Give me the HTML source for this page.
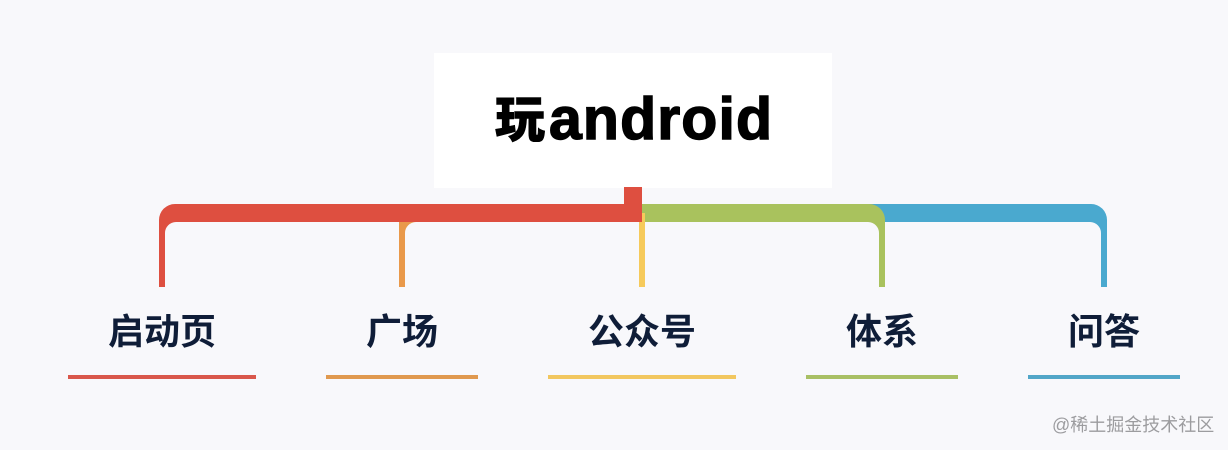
<!DOCTYPE html>
<html lang="zh">
<head>
<meta charset="utf-8">
<style>
html,body{margin:0;padding:0;width:1228px;height:450px;overflow:hidden;background:#f8f8fb}
svg{display:block}
.l{font-family:"Liberation Sans","Noto Sans CJK SC",sans-serif;font-size:36px;font-weight:700;fill:#0f1d38;text-anchor:middle}
</style>
</head>
<body>
<svg width="1228" height="450" viewBox="0 0 1228 450" xmlns="http://www.w3.org/2000/svg">
<rect width="1228" height="450" fill="#f8f8fb"/>
<rect x="434" y="53" width="398" height="135" fill="#fff"/>
<path d="M642 204H1091A16 16 0 0 1 1107 220V287H1101V233A11 11 0 0 0 1090 222H642Z" fill="#4aa9cf"/>
<path d="M642 204H869A16 16 0 0 1 885 220V287H879V233A11 11 0 0 0 868 222H642Z" fill="#a9c25d"/>
<rect x="639" y="213" width="6" height="74" fill="#f6ca5b"/>
<path d="M399 220V287H405V233A11 11 0 0 1 416 222V220Z" fill="#e9994a"/>
<path d="M159 287V220A16 16 0 0 1 175 204H624V187H642V222H176A11 11 0 0 0 165 233V287Z" fill="#de4f40"/>
<text x="495" y="137" font-family="'Noto Sans CJK SC',sans-serif" font-size="50" font-weight="900" fill="#000" stroke="#000" stroke-width="0.6">玩</text>
<text x="549" y="139" font-family="'Liberation Sans',sans-serif" font-size="59" font-weight="700" fill="#000" stroke="#000" stroke-width="1.4" textLength="223" lengthAdjust="spacing">android</text>
<text class="l" x="162" y="344">启动页</text>
<text class="l" x="402" y="344">广场</text>
<text class="l" x="642" y="344">公众号</text>
<text class="l" x="882" y="344">体系</text>
<text class="l" x="1104" y="344">问答</text>
<rect x="68" y="375" width="188" height="4" fill="#d9574b"/>
<rect x="326" y="375" width="152" height="4" fill="#e0994f"/>
<rect x="548" y="375" width="188" height="4" fill="#f2c75f"/>
<rect x="806" y="375" width="152" height="4" fill="#a9c065"/>
<rect x="1028" y="375" width="152" height="4" fill="#52a6c8"/>
<text x="1052" y="431" font-family="'Liberation Sans','Noto Sans CJK SC',sans-serif" font-size="18" fill="#9c9c9f">@稀土掘金技术社区</text>
</svg>
</body>
</html>
